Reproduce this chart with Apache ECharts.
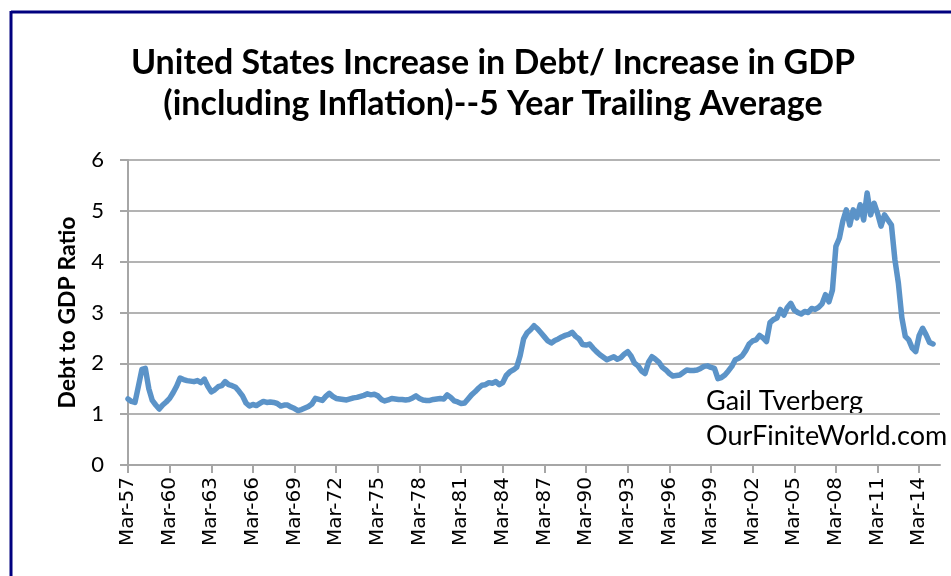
<!DOCTYPE html>
<html>
<head>
<meta charset="utf-8">
<script src="https://cdn.jsdelivr.net/npm/echarts@6/dist/echarts.min.js"></script>
<style>
html,body{margin:0;padding:0;background:#fff;}
#c{width:951px;height:576px;}
</style>
</head>
<body>
<div id="c"></div>
<script>
// Quarterly series, Mar-57 .. Mar-15
const ratio = [
1.30,1.25,1.23,1.55,1.88,1.90,1.50,1.27,1.18,1.10,
1.18,1.24,1.31,1.42,1.55,1.71,1.68,1.66,1.65,1.64,
1.66,1.62,1.69,1.55,1.44,1.48,1.54,1.56,1.64,1.58,
1.56,1.53,1.45,1.36,1.22,1.16,1.19,1.17,1.21,1.25,
1.23,1.24,1.23,1.21,1.16,1.18,1.18,1.14,1.11,1.07,
1.09,1.12,1.15,1.20,1.31,1.29,1.27,1.35,1.41,1.35,
1.31,1.30,1.29,1.28,1.30,1.32,1.33,1.35,1.37,1.40,
1.38,1.39,1.36,1.29,1.26,1.28,1.31,1.30,1.29,1.29,
1.28,1.29,1.32,1.36,1.31,1.28,1.27,1.27,1.29,1.30,
1.31,1.30,1.38,1.33,1.26,1.24,1.21,1.22,1.30,1.38,
1.44,1.51,1.57,1.58,1.62,1.61,1.64,1.58,1.62,1.76,
1.83,1.87,1.92,2.15,2.48,2.60,2.66,2.74,2.68,2.60,
2.52,2.44,2.40,2.45,2.48,2.52,2.55,2.57,2.61,2.53,
2.48,2.37,2.36,2.38,2.30,2.23,2.17,2.12,2.07,2.10,
2.13,2.08,2.11,2.18,2.23,2.14,2.00,1.95,1.85,1.80,
2.02,2.13,2.08,2.02,1.92,1.87,1.80,1.75,1.76,1.77,
1.82,1.87,1.86,1.86,1.87,1.90,1.94,1.95,1.92,1.90,
1.70,1.72,1.77,1.85,1.94,2.07,2.10,2.15,2.25,2.38,
2.44,2.46,2.55,2.50,2.43,2.80,2.86,2.89,3.06,2.95,
3.10,3.18,3.05,3.00,2.97,3.02,3.00,3.08,3.06,3.10,
3.17,3.35,3.21,3.44,4.30,4.46,4.80,5.02,4.72,5.02,
4.86,5.12,4.82,5.35,4.92,5.15,4.95,4.70,4.92,4.82,
4.72,4.04,3.58,2.90,2.53,2.46,2.30,2.23,2.55,2.69,
2.56,2.41,2.38
];
const quarterMonths = ['Mar','Jun','Sep','Dec'];
const firstYear = 1957, lastYear = 2015;
const categories = [];
for (let y = firstYear; y <= lastYear; y++) {
  for (const m of quarterMonths) {
    categories.push(m + '-' + String(y % 100).padStart(2, '0'));
  }
}
categories.splice(235); // axis runs a little past the last point
const yTicks = [0,1,2,3,4,5,6];
const titleLines = ['United States Increase in Debt/ Increase in GDP', '(including Inflation)--5 Year Trailing Average'];
const yName = 'Debt to GDP Ratio';
const credits = ['Gail Tverberg', 'OurFiniteWorld.com'];

const chart = echarts.init(document.getElementById('c'), null, {renderer: 'canvas'});
chart.setOption({
  animation: false,
  backgroundColor: '#ffffff',
  title: {
    text: titleLines.join('\n'),
    left: 488, top: 38, textAlign: 'center',
    textStyle: {fontFamily: 'Lato', fontWeight: 'bold', fontSize: 34, lineHeight: 41, color: '#000'}
  },
  grid: {left: 128, top: 160, right: 11, bottom: 111, containLabel: false},
  xAxis: {
    type: 'category', data: categories, boundaryGap: false,
    axisLine: {lineStyle: {color: '#a6a6a6', width: 2}},
    axisTick: {show: true, interval: (i) => i % 12 === 0, length: 8, lineStyle: {color: '#a6a6a6', width: 2}},
    axisLabel: {interval: (i) => i % 12 === 0, rotate: 90, margin: 12, fontFamily: 'DejaVu Sans', fontSize: 20, color: '#000'},
    splitLine: {show: false}
  },
  yAxis: {
    type: 'value', min: yTicks[0], max: yTicks[yTicks.length-1], interval: 1,
    name: yName, nameLocation: 'middle', nameGap: 49, nameRotate: 90,
    nameTextStyle: {fontFamily: 'Lato', fontWeight: 'bold', fontSize: 23, color: '#000'},
    axisLine: {show: true, lineStyle: {color: '#a6a6a6', width: 2}},
    axisTick: {show: true, length: 8, lineStyle: {color: '#a6a6a6', width: 2}},
    axisLabel: {margin: 24, fontFamily: 'Lato', fontSize: 22, color: '#000'},
    splitLine: {lineStyle: {color: '#b3b3b3', width: 2}}
  },
  series: [{
    type: 'line', data: ratio, showSymbol: false, symbol: 'none',
    lineStyle: {color: '#5b93c8', width: 5.5, join: 'round', cap: 'round'}
  }],
  graphic: [
    {type: 'line', shape: {x1: 11, y1: 12, x2: 951, y2: 12}, style: {stroke: '#00007f', lineWidth: 3}},
    {type: 'line', shape: {x1: 11, y1: 11, x2: 11, y2: 576}, style: {stroke: '#00007f', lineWidth: 3}},
    {type: 'text', left: 706, top: 388, style: {text: credits[0], font: '27px Lato', fill: '#000'}},
    {type: 'text', left: 706, top: 423, style: {text: credits[1], font: '27px Lato', fill: '#000'}}
  ]
});
</script>
</body>
</html>
